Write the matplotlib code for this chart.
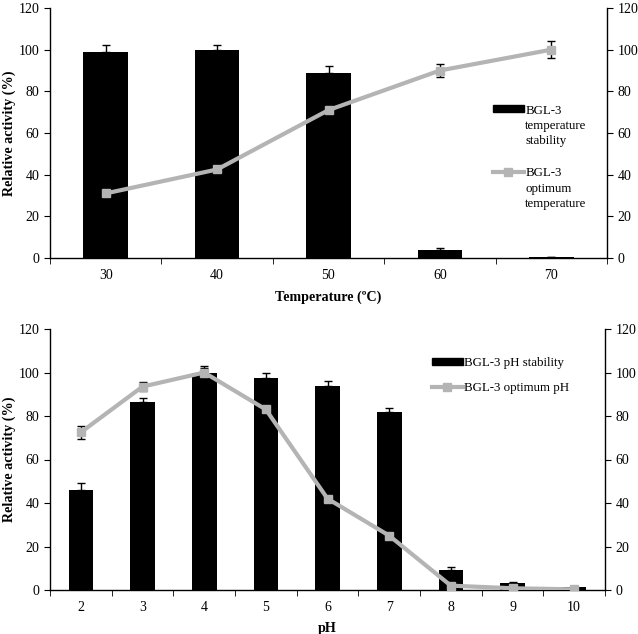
import numpy as np
import matplotlib
matplotlib.use("Agg")
import matplotlib.pyplot as plt
from matplotlib.patches import Rectangle
from matplotlib.lines import Line2D
from matplotlib.legend_handler import HandlerPatch, HandlerLine2D
from matplotlib.transforms import Affine2D

plt.rcParams['font.family'] = ['Liberation Serif', 'DejaVu Serif']

temp_labels = ["30", "40", "50", "60", "70"]
temp_stab = [99, 100, 89, 4, 0.3]
temp_stab_err = [3, 2, 3, 1, 0]
temp_opt = [31, 42.5, 71, 90, 100]
temp_opt_err = [0, 0, 0, 3, 4]

ph_labels = ["2", "3", "4", "5", "6", "7", "8", "9", "10"]
ph_stab = [46, 86.5, 100, 97.5, 94, 82, 9, 3.2, 1.2]
ph_stab_err = [3, 2, 3, 2.5, 2, 1.5, 1.5, 0.5, 0.2]
ph_opt = [72.5, 93.5, 100, 83, 42, 25, 2, 0.8, 0.3]
ph_opt_err = [3, 2, 2, 0, 0, 0, 0, 0, 0]

GRAY = "#b4b4b4"
FS = 10
LFS = 9.3


# legend handlers that lift the handle up to the first line of a multi-line label
class UpPatch(HandlerPatch):
    def __init__(self, dy=0, **kw):
        super().__init__(**kw)
        self.dy = dy

    def create_artists(self, legend, orig_handle, xdescent, ydescent, width, height, fontsize, trans):
        t = Affine2D().translate(0, self.dy) + trans
        return super().create_artists(legend, orig_handle, xdescent, ydescent, width, height, fontsize, t)


class UpLine(HandlerLine2D):
    def __init__(self, dy=0, **kw):
        super().__init__(**kw)
        self.dy = dy

    def create_artists(self, legend, orig_handle, xdescent, ydescent, width, height, fontsize, trans):
        t = Affine2D().translate(0, self.dy) + trans
        return super().create_artists(legend, orig_handle, xdescent, ydescent, width, height, fontsize, t)


def panel(ax, labels, stab, stab_err, opt, opt_err, xlabel, lab_bar, lab_line,
          leg_anchor, spacing, dy):
    x = np.arange(len(labels))
    ax.bar(x, stab, width=0.4, color="black", zorder=2)
    ax.errorbar(x, stab, yerr=[np.zeros(len(stab)), stab_err], fmt="none",
                ecolor="black", elinewidth=1, capsize=3, capthick=1, zorder=3)
    ax.errorbar(x, opt, yerr=opt_err, color=GRAY, lw=3, marker="s", ms=6,
                ecolor="black", elinewidth=1, capsize=3, capthick=1, zorder=4)
    ax.set_xlim(-0.5, len(labels) - 0.5)
    ax.set_ylim(0, 120)
    ax.set_yticks(range(0, 121, 20))
    ax.set_xticks(x)
    ax.set_xticklabels(labels)
    ax.set_xticks(np.arange(-0.5, len(labels), 1), minor=True)
    ax.tick_params(axis="x", which="major", length=0, pad=8, labelsize=FS)
    ax.tick_params(axis="x", which="minor", length=4, direction="out")
    ax.tick_params(axis="y", which="both", direction="out", length=4, labelsize=FS,
                   right=True, labelright=True)
    for s in ax.spines.values():
        s.set_linewidth(1)
    ax.spines["top"].set_visible(False)
    ax.set_xlabel(xlabel, fontsize=10.2, fontweight="bold", labelpad=6)
    ax.set_ylabel("Relative activity (%)", fontsize=10.2, fontweight="bold")

    hb = Rectangle((0, 0), 1, 1, color="black")
    hl = Line2D([], [], color=GRAY, lw=3, marker="s", ms=6)
    leg = ax.legend([hb, hl], [lab_bar, lab_line], loc="upper left", bbox_to_anchor=leg_anchor,
                    frameon=False, fontsize=LFS, handlelength=2.4, handleheight=0.45,
                    handletextpad=0.1, labelspacing=spacing, borderpad=0, borderaxespad=0,
                    handler_map={Rectangle: UpPatch(dy), Line2D: UpLine(dy)})
    for t in leg.get_texts():
        t.set_linespacing(1.35)


fig, (ax1, ax2) = plt.subplots(2, 1, figsize=(6.38, 6.34), dpi=100)

panel(ax1, temp_labels, temp_stab, temp_stab_err, temp_opt, temp_opt_err,
      "Temperature (\u00baC)", "BGL-3\ntemperature\nstability",
      "BGL-3\noptimum\ntemperature", (0.795, 0.614), 1.6, LFS * 1.35)
panel(ax2, ph_labels, ph_stab, ph_stab_err, ph_opt, ph_opt_err,
      "pH", "BGL-3 pH stability", "BGL-3 optimum pH", (0.688, 0.893), 1.05, 0)

ax1.set_position([50 / 638, 1 - 258 / 634, (607 - 50) / 638, (258 - 8) / 634])
ax2.set_position([50 / 638, 1 - 590 / 634, (605 - 50) / 638, (590 - 329) / 634])
ax1.yaxis.set_label_coords(-34 / 557, 0.5)
ax2.yaxis.set_label_coords(-34 / 555, 0.5)

fig.savefig("out.png", dpi=100)
